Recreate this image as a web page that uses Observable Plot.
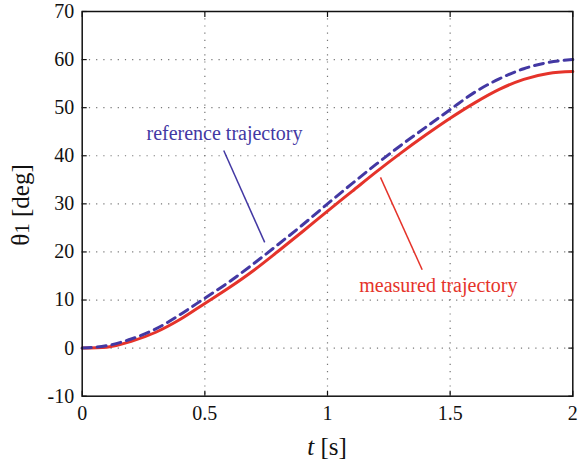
<!DOCTYPE html>
<html>
<head>
<meta charset="utf-8">
<script src="https://cdn.jsdelivr.net/npm/d3@7"></script>
<script src="https://cdn.jsdelivr.net/npm/@observablehq/plot@0.6"></script>
<style>
  html, body { margin: 0; padding: 0; background: #fff; }
</style>
</head>
<body>
<div id="chart"></div>
<script>
// Data
const time = [0, 0.1, 0.2, 0.3, 0.4, 0.5, 0.6, 0.7, 0.8, 0.9, 1.0, 1.1, 1.2, 1.3, 1.4, 1.5, 1.6, 1.7, 1.8, 1.9, 2.0];
const referenceTraj = [0, 0.5, 1.9, 4.0, 7.0, 10.4, 13.8, 17.6, 21.6, 25.7, 30.0, 34.2, 38.3, 42.2, 45.9, 49.6, 53.2, 56.0, 58.1, 59.4, 60.0];
const measuredTraj = [0, 0.2, 1.4, 3.3, 6.0, 9.3, 12.6, 16.2, 20.2, 24.3, 28.5, 32.6, 36.7, 40.6, 44.3, 47.8, 51.0, 53.8, 55.9, 57.1, 57.5];
const xTicks = [0, 0.5, 1, 1.5, 2];
const yTicks = [-10, 0, 10, 20, 30, 40, 50, 60, 70];
const xTickLabels = ["0", "0.5", "1", "1.5", "2"];

// Annotations (data coordinates)
const labelNames = ["reference trajectory", "measured trajectory"];
const labelX = [0.58, 1.452];
const labelY = [44.6, 13.0];
const leaderX1 = [0.577, 1.216];
const leaderY1 = [41.1, 35.5];
const leaderX2 = [0.744, 1.386];
const leaderY2 = [22.0, 16.3];

const BLUE = "#4338a3";
const RED = "#e5332a";
const FONT = "Liberation Serif, Times New Roman, Times, serif";

const refData = time.map((t, i) => ({t, v: referenceTraj[i]}));
const meaData = time.map((t, i) => ({t, v: measuredTraj[i]}));
const labels = labelNames.map((name, i) => ({
  name, x: labelX[i], y: labelY[i],
  x1: leaderX1[i], y1: leaderY1[i], x2: leaderX2[i], y2: leaderY2[i]
}));
const colors = [BLUE, RED];

const W = 581, H = 467;
const mL = 81.7, mR = 8.7, mT = 11, mB = 71.3;

const plot = Plot.plot({
  width: W,
  height: H,
  marginLeft: mL,
  marginRight: mR,
  marginTop: mT,
  marginBottom: mB,
  style: {fontFamily: FONT, fontSize: "20px", background: "#fff", color: "#111"},
  x: {domain: [0, 2]},
  y: {domain: [-10, 70]},
  marks: [
    Plot.gridX(xTicks.slice(1, -1), {stroke: "#777", strokeOpacity: 1, strokeWidth: 1.2, strokeDasharray: "1.2,6"}),
    Plot.gridY(yTicks.slice(1, -1), {stroke: "#777", strokeOpacity: 1, strokeWidth: 1.2, strokeDasharray: "1.2,6"}),
    // tick labels
    Plot.axisX(xTicks, {anchor: "bottom", tickSize: 0, tickPadding: 10, fontSize: 20, fontFamily: FONT, tickFormat: d => xTickLabels[xTicks.indexOf(d)], label: null}),
    Plot.axisY(yTicks, {anchor: "left", tickSize: 0, tickPadding: 8, fontSize: 20, fontFamily: FONT, tickFormat: d => String(d), label: null}),
    // inward tick marks on all four sides
    Plot.axisX(xTicks, {anchor: "bottom", tickSize: 5, dy: -5, tickFormat: () => "", label: null, strokeWidth: 1.2, stroke: "#111"}),
    Plot.axisX(xTicks, {anchor: "top", tickSize: 5, dy: 5, tickFormat: () => "", label: null, strokeWidth: 1.2, stroke: "#111"}),
    Plot.axisY(yTicks, {anchor: "left", tickSize: 5, dx: 5, tickFormat: () => "", label: null, strokeWidth: 1.2, stroke: "#111"}),
    Plot.axisY(yTicks, {anchor: "right", tickSize: 5, dx: -5, tickFormat: () => "", label: null, strokeWidth: 1.2, stroke: "#111"}),
    // curves
    Plot.line(meaData, {x: "t", y: "v", stroke: RED, strokeWidth: 3, curve: "monotone-x"}),
    Plot.line(refData, {x: "t", y: "v", stroke: BLUE, strokeWidth: 3, strokeDasharray: "9,6", curve: "monotone-x"}),
    // annotations
    Plot.link(labels, {x1: "x1", y1: "y1", x2: "x2", y2: "y2", stroke: d => colors[labelNames.indexOf(d.name)], strokeWidth: 1.5}),
    Plot.text(labels, {x: "x", y: "y", text: "name", fill: d => colors[labelNames.indexOf(d.name)], fontSize: 20, textAnchor: "middle", fontFamily: FONT}),
    Plot.frame({stroke: "#111", strokeWidth: 1.5})
  ]
});

document.getElementById("chart").appendChild(plot);

// Axis titles with italic variable
const svg = d3.select(plot);
svg.attr("font-family", FONT);
const xt = svg.append("text")
  .attr("x", (mL + (W - mR)) / 2)
  .attr("y", 455)
  .attr("text-anchor", "middle")
  .attr("font-size", 25)
  .attr("fill", "#111");
xt.append("tspan").attr("font-style", "italic").text("t");
xt.append("tspan").text(" [s]");

const yt = svg.append("text")
  .attr("transform", "translate(29,205) rotate(-90)")
  .attr("text-anchor", "middle")
  .attr("font-size", 25)
  .attr("fill", "#111");
yt.append("tspan").text("θ");
yt.append("tspan").attr("font-size", 21).text("1");
yt.append("tspan").text(" [deg]");

// make sure every text element carries the serif family directly
svg.selectAll("g, text, tspan").attr("font-family", FONT).style("font-family", FONT);
</script>
</body>
</html>
